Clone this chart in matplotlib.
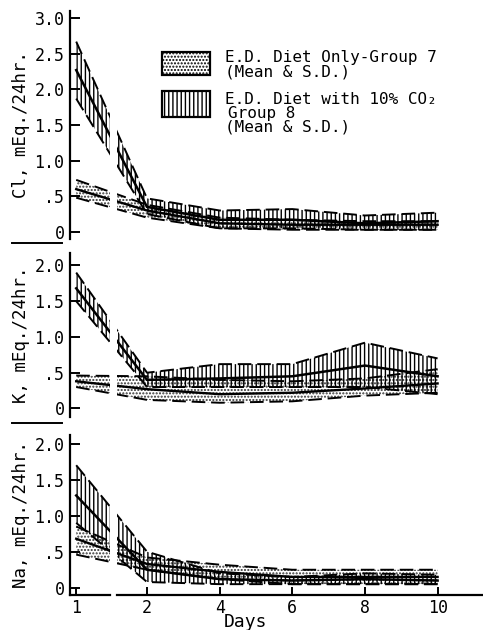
import matplotlib
matplotlib.use("Agg")
import matplotlib.pyplot as plt
from matplotlib.patches import Rectangle
from matplotlib.lines import Line2D

plt.rcParams["font.family"] = ["DejaVu Sans Mono", "DejaVu Sans"]
plt.rcParams["hatch.linewidth"] = 1.0

days = [1, 2, 4, 6, 8, 10]
day_labels = ["1", "2", "4", "6", "8", "10"]

# Cl, mEq./24hr.
cl_g7_mean = [0.60, 0.30, 0.12, 0.10, 0.10, 0.10]
cl_g7_hi = [0.73, 0.38, 0.20, 0.17, 0.15, 0.15]
cl_g7_lo = [0.48, 0.20, 0.05, 0.03, 0.03, 0.03]
cl_g8_mean = [2.27, 0.35, 0.17, 0.17, 0.12, 0.15]
cl_g8_hi = [2.67, 0.47, 0.30, 0.32, 0.23, 0.27]
cl_g8_lo = [1.87, 0.25, 0.05, 0.05, 0.03, 0.03]

# K, mEq./24hr.
k_g7_mean = [0.38, 0.27, 0.20, 0.22, 0.28, 0.35]
k_g7_hi = [0.46, 0.45, 0.40, 0.38, 0.42, 0.55]
k_g7_lo = [0.30, 0.12, 0.08, 0.10, 0.18, 0.22]
k_g8_mean = [1.68, 0.40, 0.42, 0.45, 0.60, 0.45]
k_g8_hi = [1.90, 0.50, 0.62, 0.62, 0.92, 0.70]
k_g8_lo = [1.50, 0.30, 0.30, 0.30, 0.30, 0.20]

# Na, mEq./24hr.
na_g7_mean = [0.68, 0.33, 0.22, 0.15, 0.15, 0.15]
na_g7_hi = [0.85, 0.42, 0.32, 0.25, 0.25, 0.25]
na_g7_lo = [0.46, 0.25, 0.12, 0.05, 0.05, 0.05]
na_g8_mean = [1.28, 0.25, 0.12, 0.10, 0.12, 0.10]
na_g8_hi = [1.70, 0.50, 0.20, 0.15, 0.20, 0.18]
na_g8_lo = [0.90, 0.08, 0.05, 0.05, 0.05, 0.05]

# day 1 sits left of a break in the axis
DAY1_POS = 0.05
BREAK = (0.98, 1.18)
DOTS = "....."
BARS = "||||"


def xpos(d):
    return [DAY1_POS if v == 1 else v for v in d]


def draw_panel(ax, g7, g8, yticks, yticklabels, ylim, ylabel):
    x = xpos(days)
    m7, h7, l7 = g7
    m8, h8, l8 = g8
    ax.fill_between(x, l7, h7, facecolor="none", edgecolor="#333333",
                    hatch=DOTS, lw=0, zorder=1)
    ax.plot(x, h7, color="black", lw=1.4, ls=(0, (7, 3)), zorder=2)
    ax.plot(x, l7, color="black", lw=1.4, ls=(0, (7, 3)), zorder=2)
    ax.plot(x, m7, color="black", lw=1.7, zorder=2)
    ax.fill_between(x, l8, h8, facecolor="none", edgecolor="black",
                    hatch=BARS, lw=0, zorder=1)
    ax.plot(x, h8, color="black", lw=1.4, ls=(0, (7, 3)), zorder=2)
    ax.plot(x, l8, color="black", lw=1.4, ls=(0, (7, 3)), zorder=2)
    ax.plot(x, m8, color="black", lw=1.8, zorder=2)
    ax.axvspan(BREAK[0], BREAK[1], color="white", zorder=5, lw=0)
    ax.set_xlim(-0.12, 11.25)
    ax.set_ylim(*ylim)
    ax.set_yticks(yticks)
    ax.set_yticklabels(yticklabels, fontsize=12)
    ax.set_ylabel(ylabel, fontsize=12.5, labelpad=3)
    for s in ["top", "right", "bottom"]:
        ax.spines[s].set_visible(False)
    ax.spines["left"].set_linewidth(1.6)
    ax.tick_params(axis="y", direction="in", length=7, width=1.4, pad=4)


fig = plt.figure(figsize=(4.83, 6.30), dpi=100)
ax1 = fig.add_axes([0.145, 0.6206, 0.855, 0.362])
ax2 = fig.add_axes([0.145, 0.338, 0.855, 0.260])
ax3 = fig.add_axes([0.145, 0.0556, 0.855, 0.254])

draw_panel(ax1, (cl_g7_mean, cl_g7_hi, cl_g7_lo), (cl_g8_mean, cl_g8_hi, cl_g8_lo),
           [0, 0.5, 1.0, 1.5, 2.0, 2.5, 3.0], ["0", ".5", "1.0", "1.5", "2.0", "2.5", "3.0"],
           (-0.1, 3.1), "Cl, mEq./24hr.")
draw_panel(ax2, (k_g7_mean, k_g7_hi, k_g7_lo), (k_g8_mean, k_g8_hi, k_g8_lo),
           [0, 0.5, 1.0, 1.5, 2.0], ["0", ".5", "1.0", "1.5", "2.0"],
           (-0.12, 2.17), "K, mEq./24hr.")
draw_panel(ax3, (na_g7_mean, na_g7_hi, na_g7_lo), (na_g8_mean, na_g8_hi, na_g8_lo),
           [0, 0.5, 1.0, 1.5, 2.0], ["0", ".5", "1.0", "1.5", "2.0"],
           (-0.1, 2.12), "Na, mEq./24hr.")

for ax in (ax1, ax2):
    ax.set_xticks([])

ax3.set_xticks(xpos(days))
ax3.set_xticklabels(day_labels, fontsize=12)
ax3.tick_params(axis="x", direction="in", length=6, width=1.4, pad=3)
fig.text(0.508, 0.013, "Days", fontsize=13, ha="center", va="center")
# broken x axis line
bx = ax3.get_xaxis_transform()
ax3.plot([-0.12, BREAK[0]], [0, 0], transform=bx, color="black", lw=1.6, clip_on=False, zorder=6)
ax3.plot([BREAK[1], 11.25], [0, 0], transform=bx, color="black", lw=1.6, clip_on=False, zorder=6)

# separators in the left margin
for yy in (0.614, 0.329):
    fig.add_artist(Line2D([0.025, 0.128], [yy, yy], color="black", lw=1.4))

# legend drawn by hand
fig.add_artist(Rectangle((0.335, 0.881), 0.099, 0.0365, facecolor="none",
                         edgecolor="black", hatch=DOTS, lw=1.6))
fig.add_artist(Rectangle((0.335, 0.8143), 0.099, 0.0413, facecolor="none",
                         edgecolor="black", hatch=BARS, lw=1.6))
fs = 11.5
fig.text(0.466, 0.909, "E.D. Diet Only-Group 7", fontsize=fs, va="center")
fig.text(0.466, 0.886, "(Mean & S.D.)", fontsize=fs, va="center")
fig.text(0.466, 0.842, "E.D. Diet with 10% CO\u2082", fontsize=fs, va="center")
fig.text(0.472, 0.820, "Group 8", fontsize=fs, va="center")
fig.text(0.466, 0.798, "(Mean & S.D.)", fontsize=fs, va="center")

fig.savefig("out.png", dpi=100)
